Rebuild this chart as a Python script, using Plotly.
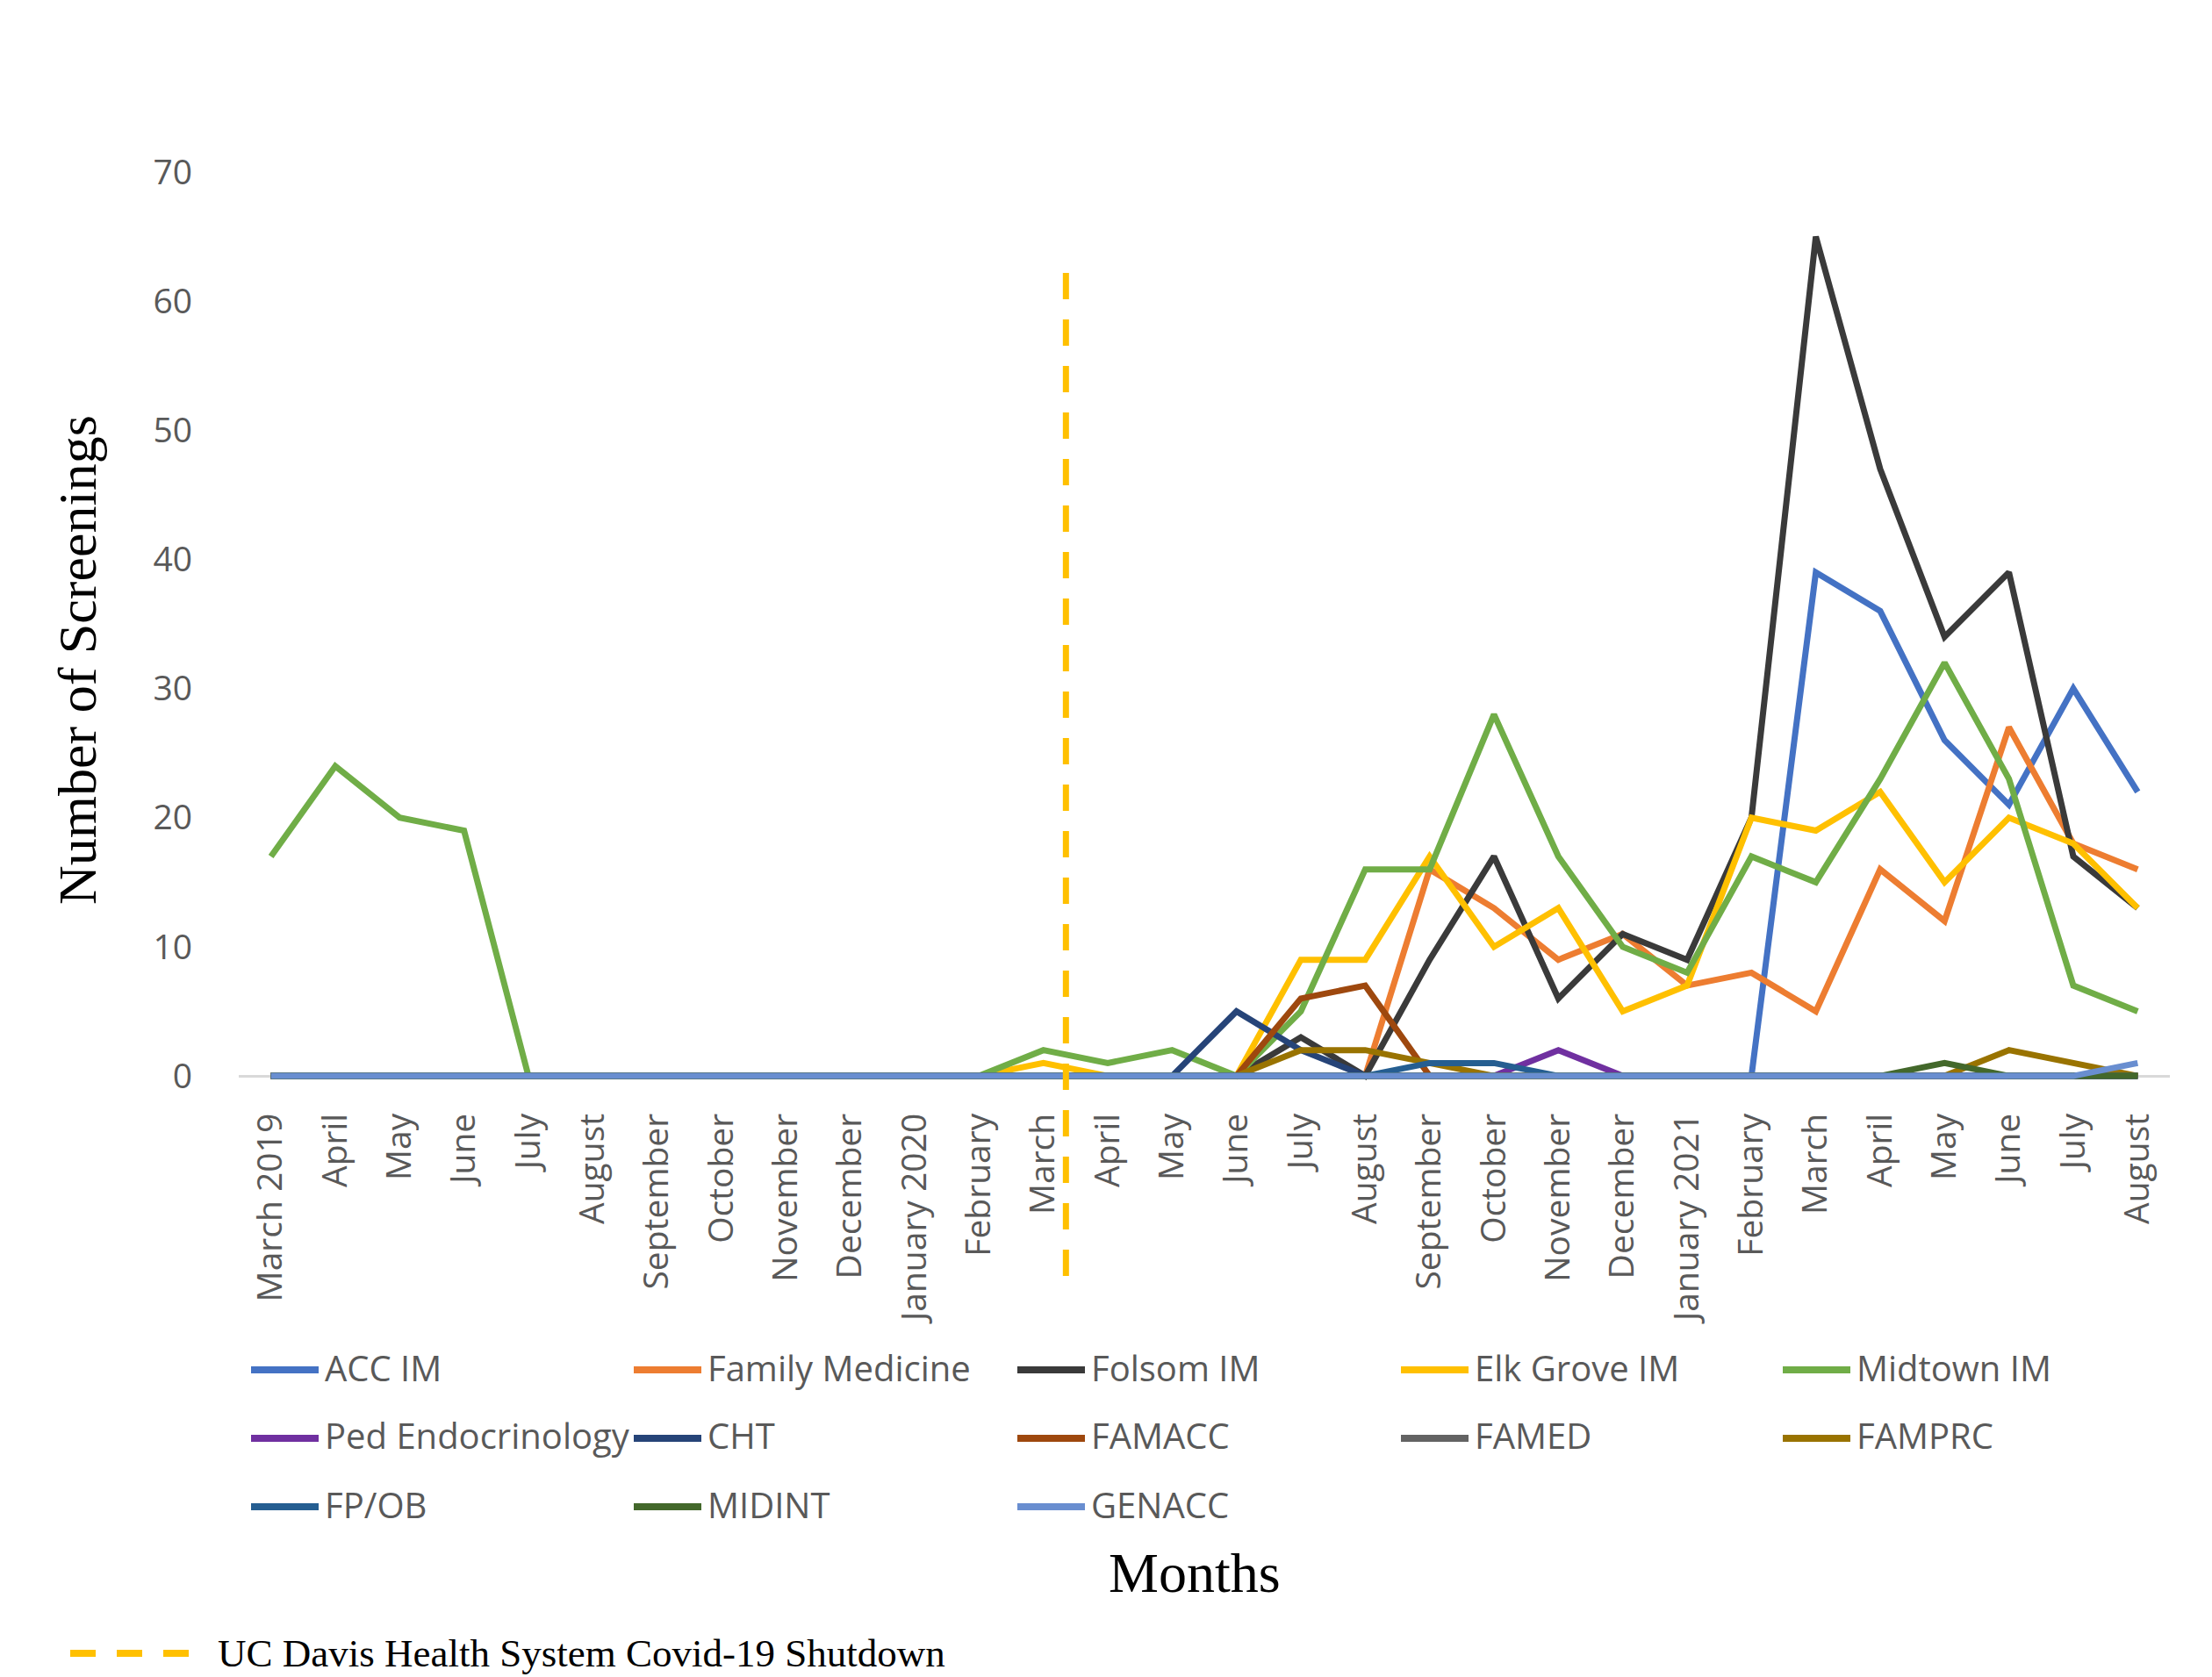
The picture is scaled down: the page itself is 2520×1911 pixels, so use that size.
import plotly.graph_objects as go

# Month labels (March 2019 - August 2021)
months = [
    "March 2019", "April", "May", "June", "July", "August", "September",
    "October", "November", "December", "January 2020", "February", "March",
    "April", "May", "June", "July", "August", "September", "October",
    "November", "December", "January 2021", "February", "March", "April",
    "May", "June", "July", "August",
]

# Monthly screening counts per clinic
acc_im = [0, 0, 0, 0, 0, 0, 0, 0, 0, 0, 0, 0, 0, 0, 0, 0, 0, 0, 0, 0, 0, 0, 0, 0, 39, 36, 26, 21, 30, 22]
family_medicine = [0, 0, 0, 0, 0, 0, 0, 0, 0, 0, 0, 0, 0, 0, 0, 0, 0, 0, 16, 13, 9, 11, 7, 8, 5, 16, 12, 27, 18, 16]
folsom_im = [0, 0, 0, 0, 0, 0, 0, 0, 0, 0, 0, 0, 0, 0, 0, 0, 3, 0, 9, 17, 6, 11, 9, 20, 65, 47, 34, 39, 17, 13]
elk_grove_im = [0, 0, 0, 0, 0, 0, 0, 0, 0, 0, 0, 0, 1, 0, 0, 0, 9, 9, 17, 10, 13, 5, 7, 20, 19, 22, 15, 20, 18, 13]
midtown_im = [17, 24, 20, 19, 0, 0, 0, 0, 0, 0, 0, 0, 2, 1, 2, 0, 5, 16, 16, 28, 17, 10, 8, 17, 15, 23, 32, 23, 7, 5]
ped_endocrinology = [0, 0, 0, 0, 0, 0, 0, 0, 0, 0, 0, 0, 0, 0, 0, 0, 0, 0, 0, 0, 2, 0, 0, 0, 0, 0, 0, 0, 0, 0]
cht = [0, 0, 0, 0, 0, 0, 0, 0, 0, 0, 0, 0, 0, 0, 0, 5, 2, 0, 0, 0, 0, 0, 0, 0, 0, 0, 0, 0, 0, 0]
famacc = [0, 0, 0, 0, 0, 0, 0, 0, 0, 0, 0, 0, 0, 0, 0, 0, 6, 7, 0, 0, 0, 0, 0, 0, 0, 0, 0, 0, 0, 0]
famed = [0, 0, 0, 0, 0, 0, 0, 0, 0, 0, 0, 0, 0, 0, 0, 0, 0, 0, 0, 0, 0, 0, 0, 0, 0, 0, 0, 0, 0, 0]
famprc = [0, 0, 0, 0, 0, 0, 0, 0, 0, 0, 0, 0, 0, 0, 0, 0, 2, 2, 1, 0, 0, 0, 0, 0, 0, 0, 0, 2, 1, 0]
fp_ob = [0, 0, 0, 0, 0, 0, 0, 0, 0, 0, 0, 0, 0, 0, 0, 0, 0, 0, 1, 1, 0, 0, 0, 0, 0, 0, 0, 0, 0, 0]
midint = [0, 0, 0, 0, 0, 0, 0, 0, 0, 0, 0, 0, 0, 0, 0, 0, 0, 0, 0, 0, 0, 0, 0, 0, 0, 0, 1, 0, 0, 0]
genacc = [0, 0, 0, 0, 0, 0, 0, 0, 0, 0, 0, 0, 0, 0, 0, 0, 0, 0, 0, 0, 0, 0, 0, 0, 0, 0, 0, 0, 0, 1]

series_names = ["ACC IM", "Family Medicine", "Folsom IM", "Elk Grove IM", "Midtown IM",
                "Ped Endocrinology", "CHT", "FAMACC", "FAMED", "FAMPRC",
                "FP/OB", "MIDINT", "GENACC"]
series_values = [acc_im, family_medicine, folsom_im, elk_grove_im, midtown_im,
                 ped_endocrinology, cht, famacc, famed, famprc,
                 fp_ob, midint, genacc]
series_colors = ["#4472C4", "#ED7D31", "#3A3A3A", "#FFC000", "#70AD47",
                 "#7030A0", "#264478", "#9E480E", "#636363", "#997300",
                 "#255E91", "#43682B", "#698ED0"]

y_ticks = [0, 10, 20, 30, 40, 50, 60, 70]
shutdown_pos = 12.35  # between March and April 2020
shutdown_label = "UC Davis Health System Covid-19 Shutdown"

# Figure geometry
FIG_W, FIG_H = 2520, 1911
M_L, M_R, M_T, M_B = 272, 48, 196, 679
X_RANGE = [-0.5, 29.5]
Y_RANGE = [-0.4, 70]
PLOT_W = FIG_W - M_L - M_R
PLOT_H = FIG_H - M_T - M_B


def px_x(px):
    return (px - M_L) / PLOT_W


def px_y(py):
    return (FIG_H - M_B - py) / PLOT_H


TICK_FONT = dict(family="Open Sans", size=39, color="#595959")
LEGEND_FONT = dict(family="Open Sans", size=40, color="#595959")
SERIF = "Liberation Serif"

x_idx = list(range(len(months)))

fig = go.Figure()
for name, vals, col in zip(series_names, series_values, series_colors):
    fig.add_trace(go.Scatter(
        x=x_idx, y=vals, name=name, mode="lines",
        line=dict(color=col, width=7),
        showlegend=False,
    ))

shapes = []
annotations = []

# Shutdown marker: dashed vertical line
sx = (shutdown_pos - X_RANGE[0]) / (X_RANGE[1] - X_RANGE[0])
shapes.append(dict(
    type="line", xref="paper", yref="paper",
    x0=sx, x1=sx, y0=px_y(1454), y1=px_y(305),
    line=dict(color="#FFC000", width=7, dash="30px,23px"),
))

# Series key laid out in five columns beneath the axis
col_x = [286, 722, 1159, 1596, 2031]
row_y = [1561, 1639, 1717]
for i, (name, col) in enumerate(zip(series_names, series_colors)):
    cx = col_x[i % 5]
    ry = row_y[i // 5]
    shapes.append(dict(
        type="line", xref="paper", yref="paper",
        x0=px_x(cx), x1=px_x(cx + 77), y0=px_y(ry), y1=px_y(ry),
        line=dict(color=col, width=8),
    ))
    annotations.append(dict(
        text=name, xref="paper", yref="paper",
        x=px_x(cx + 82), y=px_y(ry - 3),
        xanchor="left", yanchor="middle", showarrow=False,
        font=LEGEND_FONT,
    ))

# Shutdown key entry
shapes.append(dict(
    type="line", xref="paper", yref="paper",
    x0=px_x(80), x1=px_x(217), y0=px_y(1884), y1=px_y(1884),
    line=dict(color="#FFC000", width=8, dash="29px,24px"),
))
annotations.append(dict(
    text=shutdown_label, xref="paper", yref="paper",
    x=px_x(246), y=px_y(1884),
    xanchor="left", yanchor="middle", showarrow=False,
    font=dict(family=SERIF, size=45, color="#000000"),
))

# Axis titles
annotations.append(dict(
    text="Number of Screenings", xref="paper", yref="paper",
    x=px_x(88), y=px_y(752), textangle=-90,
    xanchor="center", yanchor="middle", showarrow=False,
    font=dict(family=SERIF, size=62, color="#000000"),
))
annotations.append(dict(
    text="Months", xref="paper", yref="paper",
    x=px_x(1361), y=px_y(1792),
    xanchor="center", yanchor="middle", showarrow=False,
    font=dict(family=SERIF, size=64, color="#000000"),
))

fig.update_layout(
    width=FIG_W, height=FIG_H, autosize=False,
    margin=dict(l=M_L, r=M_R, t=M_T, b=M_B, pad=0),
    paper_bgcolor="white", plot_bgcolor="white",
    showlegend=False,
    shapes=shapes, annotations=annotations,
    xaxis=dict(
        range=X_RANGE, tickmode="array", tickvals=x_idx, ticktext=months,
        tickangle=-90, tickfont=TICK_FONT, showgrid=False, zeroline=False,
        showline=False, ticks="", ticklabelstandoff=28, fixedrange=True,
    ),
    yaxis=dict(
        range=Y_RANGE, tickmode="array", tickvals=y_ticks,
        tickfont=TICK_FONT, showgrid=False, zeroline=True,
        zerolinecolor="#D9D9D9", zerolinewidth=3, showline=False,
        ticks="", ticklabelstandoff=52, fixedrange=True,
    ),
)

fig.write_html("out.html")
